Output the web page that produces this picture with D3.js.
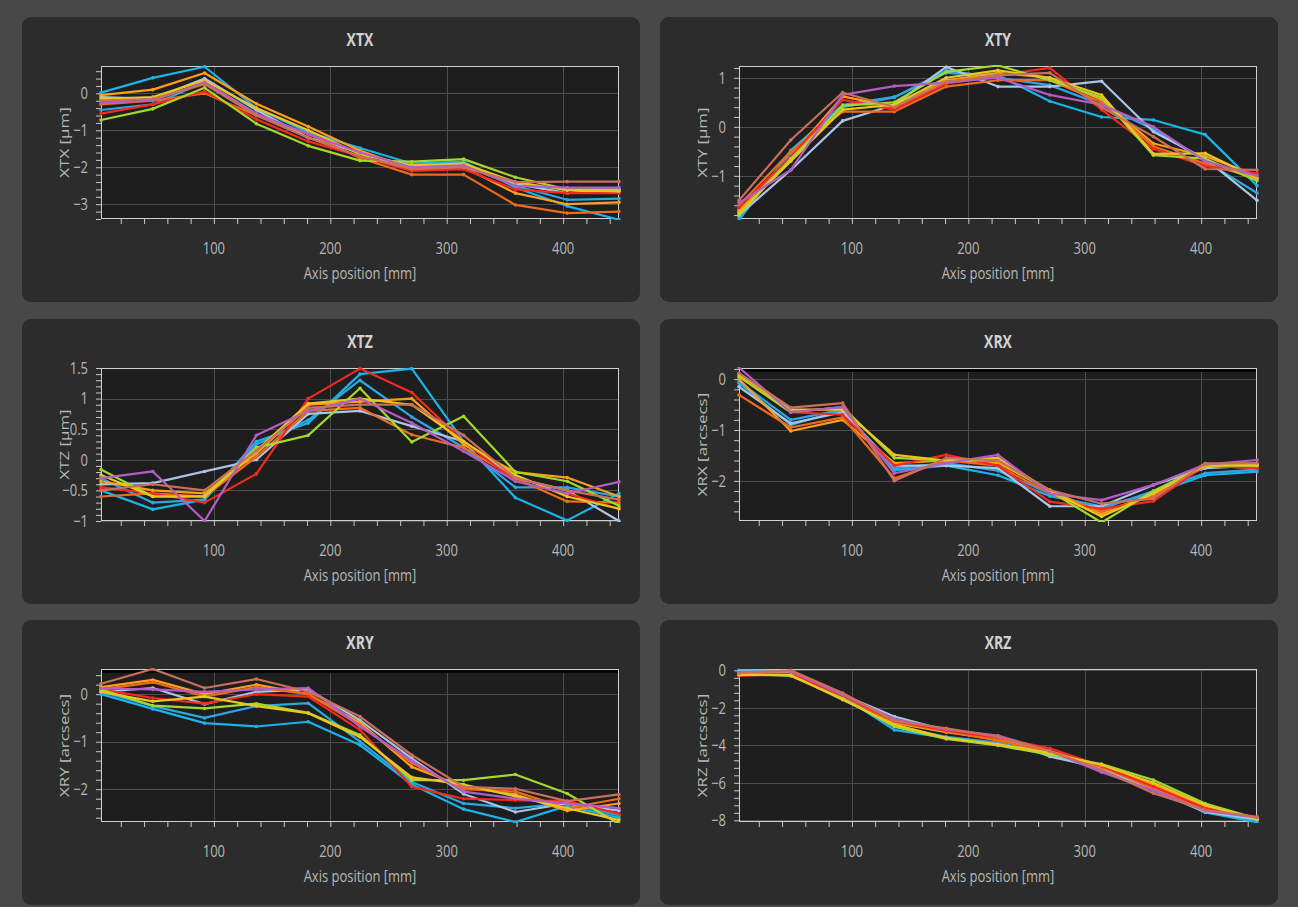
<!DOCTYPE html>
<html>
<head>
<meta charset="utf-8">
<script src="https://cdn.jsdelivr.net/npm/d3@7"></script>
<style>
  html, body { margin: 0; padding: 0; background: #484848; }
  svg { display: block; }
  text { font-family: "Open Sans", "Noto Sans", sans-serif; }
</style>
</head>
<body>
<svg id="chart" width="1298" height="907"></svg>
<script>
// Measurement positions along the axis [mm]
const positions = [3, 47.5, 92, 136.5, 181, 225.5, 270, 314.5, 359, 403.5, 448];
const xTickLabels = [100, 200, 300, 400];

// One colour per measurement run
const runColors = ["#1ab4ea", "#2fa6e2", "#a9c4e4", "#ff9d1c", "#ee6a1e",
                   "#f52a1c", "#a4d82c", "#e8c820", "#b45cc8", "#c9705c"];

// XTX [µm]
const xtxRuns = [
  [0.02, 0.42, 0.72, -0.40, -1.05, -1.48, -1.90, -1.85, -2.55, -3.05, -3.42],
  [-0.45, -0.30, 0.30, -0.55, -1.20, -1.60, -2.00, -1.95, -2.50, -2.88, -2.85],
  [-0.10, -0.15, 0.40, -0.45, -1.20, -1.60, -2.00, -1.95, -2.45, -2.70, -2.60],
  [-0.05, 0.10, 0.55, -0.28, -0.90, -1.55, -2.05, -2.00, -2.70, -3.00, -2.95],
  [-0.30, -0.20, 0.00, -0.60, -1.10, -1.75, -2.20, -2.20, -3.02, -3.24, -3.20],
  [-0.55, -0.30, 0.05, -0.70, -1.30, -1.70, -2.10, -2.05, -2.60, -2.70, -2.70],
  [-0.72, -0.42, 0.15, -0.82, -1.42, -1.82, -1.85, -1.78, -2.27, -2.60, -2.60],
  [-0.15, -0.10, 0.35, -0.40, -1.00, -1.65, -1.95, -1.90, -2.40, -2.62, -2.65],
  [-0.25, -0.20, 0.30, -0.55, -1.10, -1.60, -2.00, -1.95, -2.50, -2.55, -2.55],
  [-0.20, -0.15, 0.25, -0.60, -1.20, -1.70, -2.05, -2.00, -2.40, -2.39, -2.39]
];
const xtxTicks = [-3, -2, -1, 0];

// XTY [µm]
const xtyRuns = [
  [-1.90, -0.48, 0.45, 0.61, 1.10, 1.05, 0.52, 0.20, 0.14, -0.16, -1.20],
  [-1.85, -0.55, 0.40, 0.60, 1.15, 1.00, 0.85, 0.45, -0.05, -0.70, -1.35],
  [-1.80, -0.88, 0.12, 0.45, 1.22, 0.82, 0.82, 0.93, -0.10, -0.65, -1.50],
  [-1.70, -0.60, 0.62, 0.40, 0.95, 1.10, 1.00, 0.55, -0.34, -0.60, -1.00],
  [-1.60, -0.50, 0.31, 0.31, 0.82, 0.95, 0.95, 0.50, -0.40, -0.75, -1.05],
  [-1.65, -0.60, 0.55, 0.35, 0.88, 1.05, 1.20, 0.35, -0.45, -0.80, -0.95],
  [-1.80, -0.65, 0.43, 0.50, 1.12, 1.25, 0.95, 0.60, -0.58, -0.65, -1.10],
  [-1.75, -0.70, 0.35, 0.45, 1.00, 1.15, 1.00, 0.65, -0.55, -0.54, -1.05],
  [-1.55, -0.88, 0.65, 0.83, 0.90, 1.00, 0.65, 0.45, 0.00, -0.70, -1.00],
  [-1.50, -0.27, 0.70, 0.40, 0.92, 1.05, 1.10, 0.40, -0.20, -0.86, -0.88]
];
const xtyTicks = [-1, 0, 1];

// XTZ [µm]
const xtzRuns = [
  [-0.50, -0.81, -0.65, 0.30, 0.60, 1.40, 1.49, 0.30, -0.62, -0.99, -0.55],
  [-0.30, -0.70, -0.65, 0.25, 0.65, 1.30, 0.70, 0.20, -0.45, -0.45, -0.60],
  [-0.40, -0.38, -0.19, 0.00, 0.75, 0.80, 0.55, 0.30, -0.30, -0.50, -1.00],
  [-0.35, -0.50, -0.55, 0.10, 0.90, 0.95, 1.00, 0.25, -0.20, -0.29, -0.60],
  [-0.60, -0.55, -0.60, 0.05, 0.80, 0.85, 0.41, 0.20, -0.30, -0.68, -0.70],
  [-0.45, -0.55, -0.70, -0.23, 1.00, 1.49, 1.10, 0.30, -0.35, -0.55, -0.80],
  [-0.16, -0.60, -0.60, 0.20, 0.40, 1.17, 0.29, 0.71, -0.20, -0.35, -0.75],
  [-0.25, -0.60, -0.60, 0.15, 0.92, 1.00, 0.90, 0.30, -0.25, -0.60, -0.80],
  [-0.30, -0.19, -1.00, 0.40, 0.80, 1.00, 0.60, 0.14, -0.35, -0.55, -0.36],
  [-0.50, -0.40, -0.50, 0.15, 0.85, 0.90, 0.90, 0.40, -0.30, -0.50, -0.65]
];
const xtzTicks = [-1, -0.5, 0, 0.5, 1, 1.5];

// XRX [arcsecs]
const xrxRuns = [
  [-0.08, -0.90, -0.60, -1.79, -1.70, -1.89, -2.30, -2.50, -2.25, -1.89, -1.82],
  [-0.05, -0.80, -0.60, -1.75, -1.65, -1.80, -2.25, -2.55, -2.20, -1.85, -1.78],
  [-0.15, -0.87, -0.65, -1.70, -1.70, -1.75, -2.50, -2.50, -2.08, -1.75, -1.70],
  [0.00, -1.02, -0.80, -1.65, -1.60, -1.65, -2.18, -2.65, -2.25, -1.66, -1.70],
  [-0.31, -0.95, -0.75, -1.95, -1.60, -1.70, -2.25, -2.60, -2.30, -1.70, -1.75],
  [0.05, -0.65, -0.70, -1.70, -1.49, -1.70, -2.41, -2.55, -2.40, -1.70, -1.75],
  [0.05, -0.65, -0.55, -1.55, -1.60, -1.60, -2.20, -2.82, -2.20, -1.70, -1.70],
  [0.10, -0.60, -0.60, -1.49, -1.60, -1.55, -2.20, -2.70, -2.25, -1.70, -1.68],
  [0.23, -0.65, -0.55, -1.85, -1.65, -1.49, -2.25, -2.38, -2.08, -1.68, -1.59],
  [0.12, -0.56, -0.47, -2.00, -1.55, -1.60, -2.18, -2.45, -2.35, -1.66, -1.65]
];
const xrxTicks = [-2, -1, 0];

// XRY [arcsecs]
const xryRuns = [
  [0.00, -0.31, -0.61, -0.68, -0.58, -1.07, -1.90, -2.42, -2.69, -2.35, -2.60],
  [0.05, -0.25, -0.50, -0.25, -0.19, -1.00, -1.85, -2.30, -2.40, -2.30, -2.55],
  [0.05, 0.13, -0.21, 0.05, 0.10, -0.55, -1.35, -2.10, -2.48, -2.30, -2.45],
  [0.15, 0.30, 0.00, 0.20, 0.00, -0.60, -1.53, -1.95, -2.11, -2.45, -2.30],
  [0.10, 0.25, -0.05, 0.15, 0.00, -0.65, -1.45, -2.00, -2.05, -2.40, -2.20],
  [0.10, -0.08, -0.20, 0.00, -0.05, -0.75, -1.95, -2.20, -2.23, -2.25, -2.52],
  [0.10, -0.24, -0.30, -0.20, -0.39, -0.86, -1.81, -1.81, -1.69, -2.09, -2.73],
  [0.05, -0.15, -0.05, -0.25, -0.40, -0.90, -1.75, -1.90, -2.15, -2.40, -2.65],
  [0.12, 0.10, 0.05, 0.10, 0.13, -0.68, -1.40, -2.05, -2.20, -2.30, -2.40],
  [0.22, 0.53, 0.13, 0.32, 0.05, -0.47, -1.28, -1.95, -1.99, -2.25, -2.11]
];
const xryTicks = [-2, -1, 0];

// XRZ [arcsecs]
const xrzRuns = [
  [0.00, -0.05, -1.40, -3.18, -3.60, -3.90, -4.50, -5.30, -6.30, -7.58, -8.10],
  [-0.10, -0.10, -1.45, -3.00, -3.55, -3.85, -4.45, -5.25, -6.25, -7.50, -8.00],
  [-0.05, -0.10, -1.30, -2.46, -3.20, -3.60, -4.60, -5.20, -6.40, -7.55, -7.95],
  [-0.15, -0.15, -1.35, -2.80, -3.30, -3.70, -4.30, -5.10, -6.10, -7.30, -7.90],
  [-0.20, -0.20, -1.40, -2.75, -3.25, -3.75, -4.35, -5.15, -6.30, -7.40, -7.85],
  [-0.30, -0.20, -1.35, -2.70, -3.20, -3.60, -4.16, -5.10, -6.20, -7.35, -7.85],
  [-0.20, -0.30, -1.50, -3.00, -3.66, -4.01, -4.50, -5.00, -5.85, -7.10, -7.90],
  [-0.25, -0.25, -1.57, -2.90, -3.60, -3.95, -4.40, -5.05, -6.00, -7.20, -7.95],
  [-0.10, -0.05, -1.30, -2.60, -3.15, -3.48, -4.30, -5.44, -6.40, -7.50, -7.85],
  [-0.15, 0.00, -1.21, -2.70, -3.09, -3.55, -4.30, -5.30, -6.56, -7.45, -7.81]
];
const xrzTicks = [-8, -6, -4, -2, 0];

const panels = [
  { title: "XTX", yLabel: "XTX [µm]",      runs: xtxRuns, yDomain: [-3.4, 0.74],  ticks: xtxTicks, minorStep: 0.2, topBand: false },
  { title: "XTY", yLabel: "XTY [µm]",      runs: xtyRuns, yDomain: [-1.88, 1.24], ticks: xtyTicks, minorStep: 0.2, topBand: false },
  { title: "XTZ", yLabel: "XTZ [µm]",      runs: xtzRuns, yDomain: [-1, 1.5],     ticks: xtzTicks, minorStep: 0.1, topBand: false },
  { title: "XRX", yLabel: "XRX [arcsecs]", runs: xrxRuns, yDomain: [-2.79, 0.22], ticks: xrxTicks, minorStep: 0.2, topBand: true },
  { title: "XRY", yLabel: "XRY [arcsecs]", runs: xryRuns, yDomain: [-2.69, 0.53], ticks: xryTicks, minorStep: 0.2, topBand: true },
  { title: "XRZ", yLabel: "XRZ [arcsecs]", runs: xrzRuns, yDomain: [-8.09, 0.07], ticks: xrzTicks, minorStep: 0.4, topBand: false }
];

// Layout
const panelXs = [22, 660], panelYs = [17, 319, 620];
const panelW = 618, panelH = 285;
const plot = { left: 79, top: 49, width: 518, height: 153 };
const xDomain = [3, 448];
const STRETCH = 1.3;          // tall, narrow lettering
const textColor = "#b8b8b8";

const svg = d3.select("#chart");
const fmt = d3.format("");

panels.forEach((p, i) => {
  const px = panelXs[i % 2], py = panelYs[Math.floor(i / 2)];
  const g = svg.append("g").attr("transform", `translate(${px},${py})`);

  g.append("rect").attr("width", panelW).attr("height", panelH)
    .attr("rx", 9).attr("fill", "#2c2c2c");

  const x = d3.scaleLinear().domain(xDomain).range([0, plot.width]);
  const y = d3.scaleLinear().domain(p.yDomain).range([plot.height, 0]);

  const pg = g.append("g").attr("transform", `translate(${plot.left},${plot.top})`);
  pg.append("rect").attr("width", plot.width).attr("height", plot.height).attr("fill", "#1e1e1e");

  // grid
  const grid = pg.append("g").attr("stroke", "#5a5a5a").attr("stroke-width", 1).attr("opacity", 0.8);
  grid.selectAll("line.h").data(p.ticks).join("line")
    .attr("x1", 0).attr("x2", plot.width)
    .attr("y1", d => Math.round(y(d)) + 0.5).attr("y2", d => Math.round(y(d)) + 0.5);
  grid.selectAll("line.v").data(xTickLabels).join("line")
    .attr("y1", 0).attr("y2", plot.height)
    .attr("x1", d => Math.round(x(d)) + 0.5).attr("x2", d => Math.round(x(d)) + 0.5);

  // minor ticks
  const [y0, y1] = p.yDomain;
  const minor = d3.range(Math.ceil(y0 / p.minorStep - 1e-6), Math.floor(y1 / p.minorStep + 1e-6) + 1)
    .map(k => +(k * p.minorStep).toFixed(3));
  const yAxis = d3.axisLeft(y).tickValues(minor).tickSize(5).tickFormat("");
  const yAx = pg.append("g").call(yAxis);
  const xMinor = d3.range(20, 448, 20);
  const xAxis = d3.axisBottom(x).tickValues(xMinor).tickSize(5).tickFormat("");
  const xAx = pg.append("g").attr("transform", `translate(0,${plot.height})`).call(xAxis);
  [yAx, xAx].forEach(a => {
    a.select(".domain").remove();
    a.selectAll("line").attr("stroke", "#c8c8c8").attr("stroke-width", 1);
  });

  // dark band under the top edge
  if (p.topBand) {
    pg.append("line").attr("x1", 1).attr("x2", plot.width - 1)
      .attr("y1", 2.5).attr("y2", 2.5)
      .attr("stroke", "#050505").attr("stroke-width", 3);
  }

  // frame
  pg.append("rect").attr("x", 0.5).attr("y", 0.5)
    .attr("width", plot.width - 1).attr("height", plot.height - 1)
    .attr("fill", "none").attr("stroke", "#cfcfcf").attr("stroke-width", 1);

  // runs
  const clipId = "clip" + i;
  pg.append("clipPath").attr("id", clipId).append("rect")
    .attr("x", -3).attr("y", -1).attr("width", plot.width + 6).attr("height", plot.height + 2);
  const line = d3.line().x((d, j) => x(positions[j])).y(d => y(d));
  const lines = pg.append("g").attr("clip-path", `url(#${clipId})`);
  p.runs.forEach((run, r) => {
    lines.append("path").datum(run).attr("d", line)
      .attr("fill", "none").attr("stroke", runColors[r])
      .attr("stroke-width", 2.2).attr("stroke-linejoin", "round");
    lines.selectAll(null).data(run).join("circle")
      .attr("cx", (d, j) => x(positions[j])).attr("cy", d => y(d))
      .attr("r", 1.8).attr("fill", runColors[r]);
  });

  // tick labels
  pg.selectAll("text.yt").data(p.ticks).join("text")
    .attr("transform", d => `translate(-13,${y(d)}) scale(1,${STRETCH})`)
    .attr("text-anchor", "end").attr("dy", "0.34em")
    .attr("font-size", 13).attr("fill", textColor).text(d => fmt(d));
  pg.selectAll("text.xt").data(xTickLabels).join("text")
    .attr("transform", d => `translate(${x(d)},${plot.height + 29}) scale(1,${STRETCH})`)
    .attr("text-anchor", "middle").attr("dy", "0.34em")
    .attr("font-size", 13).attr("fill", textColor).text(d => d);

  // axis titles
  pg.append("text")
    .attr("transform", `translate(${plot.width / 2},${plot.height + 54}) scale(1,${STRETCH})`)
    .attr("text-anchor", "middle").attr("dy", "0.34em")
    .attr("font-size", 13).attr("fill", textColor).text("Axis position [mm]");
  pg.append("text")
    .attr("transform", `translate(-36,${plot.height / 2}) rotate(-90) scale(${STRETCH},1)`)
    .attr("text-anchor", "middle").attr("dy", "0.34em")
    .attr("font-size", 13).attr("fill", textColor).text(p.yLabel);

  // chart title
  pg.append("text")
    .attr("transform", `translate(${plot.width / 2},-26) scale(1,${STRETCH})`)
    .attr("text-anchor", "middle").attr("dy", "0.34em")
    .attr("font-size", 14).attr("font-weight", "bold").attr("fill", "#d2d2d2").text(p.title);
});
</script>
</body>
</html>
